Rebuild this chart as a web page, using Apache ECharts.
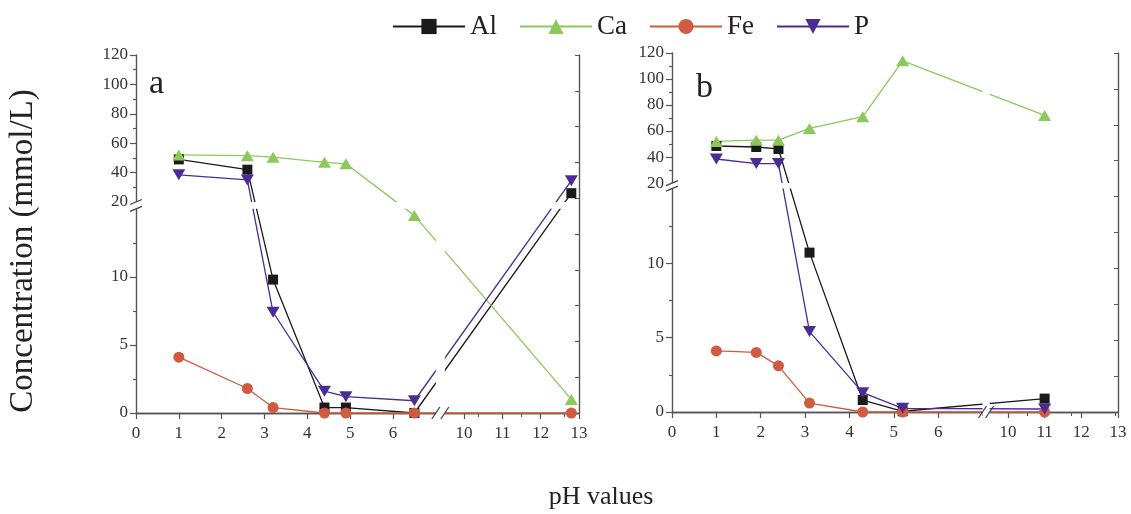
<!DOCTYPE html>
<html><head><meta charset="utf-8">
<script src="https://cdn.jsdelivr.net/npm/echarts@6/dist/echarts.min.js"></script>
<style>html,body{margin:0;padding:0;background:#fff}#c{width:1131px;height:514px}</style>
</head><body><div id="c"></div>
<script>
// ---------- data ----------
const names = ['Al', 'Ca', 'Fe', 'P'];
// panel a
const phA = [1, 2.6, 3.2, 4.4, 4.9, 6.5, 12.8];
const alA = [49, 42, 9.8, 0.4, 0.4, 0, 26];
const caA = [52, 51.5, 50.5, 47, 46, 14.5, 1.0];
const feA = [4.1, 1.8, 0.4, 0, 0, 0, 0];
const pA  = [38.5, 35, 7.4, 1.6, 1.2, 0.9, 34.5];
// panel b
const phB = [1, 1.9, 2.4, 3.1, 4.3, 5.2, 11];
const alB = [48.5, 47.7, 46.2, 10.7, 0.8, 0.05, 0.9];
const caB = [52, 53, 53, 62, 71, 114, 72];
const feB = [4.1, 4.0, 3.1, 0.6, 0, 0, 0];
const pB  = [38.5, 35, 35, 5.4, 1.3, 0.25, 0.2];
// tick labels
const yMajorLow = [0, 5, 10];
const yMajorHigh = [20, 40, 60, 80, 100, 120];
const yMinorLow = [2.5, 7.5, 12.5];
const yMinorHigh = [30, 50, 70, 90, 110];
const xTicksLow = [0, 1, 2, 3, 4, 5, 6];
const xTicksHigh = [10, 11, 12, 13];

// ---------- styling ----------
const FONT = '"Liberation Serif","Times New Roman",serif';
const colors = { Al: '#1a1a1a', Ca: '#8cc85c', Fe: '#cf5b40', P: '#4b2c94' };
const symbols = { Al: 'rect', Ca: 'triangle', Fe: 'circle', P: 'path://M0,0L10,0L5,9Z' };
const symbolSizes = { Al: 10, Ca: [13, 11], Fe: 11, P: [13, 11] };
const AXIS_COLOR = '#555';

// broken-axis scales (piecewise linear)
const panels = [
  { ph: phA, vals: { Al: alA, Ca: caA, Fe: feA, P: pA },
    grid: { left: 136, top: 55, width: 443, height: 358 },
    yLowEnd: 15, yHighStart: 20, yGap: 0.5, yK: 0.108,
    xLowEnd: 7, xHighStart: 9.5, xGap: 0.21, xR: 0.895 },
  { ph: phB, vals: { Al: alB, Ca: caB, Fe: feB, P: pB },
    grid: { left: 672, top: 53, width: 446, height: 359 },
    yLowEnd: 15, yHighStart: 20, yGap: 0.37, yK: 0.0873,
    xLowEnd: 7, xHighStart: 9.5, xGap: 0.16, xR: 0.827 }
];
function ty(p, v) { return v <= p.yLowEnd ? v : p.yLowEnd + p.yGap + (v - p.yHighStart) * p.yK; }
function tx(p, v) { return v <= p.xLowEnd ? v : p.xLowEnd + p.xGap + (v - p.xHighStart) * p.xR; }
function iy(p, d) { return d <= p.yLowEnd + 1e-6 ? d : p.yHighStart + (d - p.yLowEnd - p.yGap) / p.yK; }
function ix(p, d) { return d <= p.xLowEnd + 1e-6 ? d : p.xHighStart + (d - p.xLowEnd - p.xGap) / p.xR; }
panels.forEach(p => { p.yMax = ty(p, 120); p.xMax = tx(p, 13); });

const grids = [], xAxes = [], yAxes = [], series = [];
const labelStyle = { color: '#333', fontSize: 17, fontFamily: FONT };

panels.forEach((p, i) => {
  grids.push(Object.assign({ containLabel: false }, p.grid));
  const xTicks = xTicksLow.concat(xTicksHigh).map(v => tx(p, v));
  xAxes.push({
    type: 'value', gridIndex: i, min: 0, max: p.xMax, position: 'bottom',
    axisLine: { show: true, lineStyle: { color: AXIS_COLOR, width: 1.4 } },
    axisTick: { show: true, customValues: xTicks, length: 6, lineStyle: { color: AXIS_COLOR, width: 1.2 } },
    axisLabel: Object.assign({ customValues: xTicks, margin: 12,
      formatter: v => String(Math.round(ix(p, v))) }, labelStyle),
    splitLine: { show: false }
  });
  xAxes.push({
    type: 'value', gridIndex: i, min: 0, max: p.xMax, interval: 1, position: 'top',
    axisLine: { show: true, lineStyle: { color: AXIS_COLOR, width: 1.4 } },
    axisTick: { show: true, inside: true, length: 4, lineStyle: { color: AXIS_COLOR } },
    axisLabel: { show: false }, splitLine: { show: false }
  });
  const yMajor = yMajorLow.concat(yMajorHigh).map(v => ty(p, v));
  const yMinor = yMinorLow.concat(yMinorHigh).map(v => ty(p, v));
  yAxes.push({
    type: 'value', gridIndex: i, min: 0, max: p.yMax, position: 'left',
    axisLine: { show: true, lineStyle: { color: AXIS_COLOR, width: 1.4 } },
    axisTick: { show: true, customValues: yMajor, length: 6, lineStyle: { color: AXIS_COLOR, width: 1.2 } },
    axisLabel: Object.assign({ customValues: yMajor, margin: 8,
      formatter: v => String(Math.round(iy(p, v))) }, labelStyle),
    splitLine: { show: false }
  });
  yAxes.push({
    type: 'value', gridIndex: i, min: 0, max: p.yMax, position: 'left',
    axisLine: { show: false },
    axisTick: { show: true, customValues: yMinor, length: 3, lineStyle: { color: AXIS_COLOR, width: 1.2 } },
    axisLabel: { show: false }, splitLine: { show: false }
  });
  yAxes.push({
    type: 'value', gridIndex: i, min: 0, max: 10, interval: 1, position: 'right',
    axisLine: { show: true, lineStyle: { color: AXIS_COLOR, width: 1.4 } },
    axisTick: { show: true, inside: true, length: 4, lineStyle: { color: AXIS_COLOR } },
    axisLabel: { show: false }, splitLine: { show: false }
  });

  names.forEach(n => {
    series.push({
      name: n, type: 'line', xAxisIndex: 2 * i, yAxisIndex: 3 * i,
      data: p.ph.map((x, k) => [tx(p, x), ty(p, p.vals[n][k])]),
      symbol: symbols[n], symbolSize: symbolSizes[n], symbolKeepAspect: false,
      showAllSymbol: true, clip: false, animation: false,
      lineStyle: { color: colors[n], width: 1.3 },
      itemStyle: { color: colors[n], borderWidth: 0 },
      emphasis: { disabled: true }
    });
  });

  // break bands and "//" marks
  series.push({
    type: 'custom', xAxisIndex: 2 * i, yAxisIndex: 3 * i, silent: true, z: 5, clip: false,
    animation: false, data: [[0, 0]],
    renderItem: function (params, api) {
      const bl = api.coord([0, 0]);
      const tr = api.coord([p.xMax, p.yMax]);
      const left = bl[0], bottom = bl[1], right = tr[0], top = tr[1];
      const yb1 = api.coord([0, p.yLowEnd])[1];
      const yb2 = api.coord([0, p.yLowEnd + p.yGap])[1];
      const xb1 = api.coord([p.xLowEnd, 0])[0];
      const xb2 = api.coord([p.xLowEnd + p.xGap, 0])[0];
      const st = { stroke: '#444', lineWidth: 1.3 };
      return {
        type: 'group', children: [
          { type: 'rect', shape: { x: left - 8, y: yb2, width: right - left + 7, height: yb1 - yb2 }, style: { fill: '#fff' } },
          { type: 'rect', shape: { x: xb1, y: top + 2, width: xb2 - xb1, height: bottom - top + 8 }, style: { fill: '#fff' } },
          { type: 'line', shape: { x1: left - 6, y1: yb1 + 2.5, x2: left + 6, y2: yb1 - 2.5 }, style: st },
          { type: 'line', shape: { x1: left - 6, y1: yb2 + 2.5, x2: left + 6, y2: yb2 - 2.5 }, style: st },
          { type: 'line', shape: { x1: xb1 - 4, y1: bottom + 6, x2: xb1 + 4, y2: bottom - 6 }, style: st },
          { type: 'line', shape: { x1: xb2 - 4, y1: bottom + 6, x2: xb2 + 4, y2: bottom - 6 }, style: st }
        ]
      };
    }
  });
});

const chart = echarts.init(document.getElementById('c'), null, { renderer: 'canvas' });
chart.setOption({
  backgroundColor: '#fff',
  animation: false,
  legend: {
    data: names, left: 387, top: 8, itemWidth: 72, itemHeight: 19, itemGap: 22,
    textStyle: { fontSize: 27, fontFamily: FONT, color: '#222' },
    selectedMode: false
  },
  grid: grids,
  xAxis: xAxes,
  yAxis: yAxes,
  series: series,
  graphic: [
    { type: 'text', x: 23, y: 251, rotation: Math.PI / 2,
      style: { text: 'Concentration (mmol/L)', fontSize: 33, fontFamily: FONT, fill: '#222', align: 'center', verticalAlign: 'middle' } },
    { type: 'text', x: 601, y: 497,
      style: { text: 'pH values', fontSize: 26, fontFamily: FONT, fill: '#222', align: 'center', verticalAlign: 'middle' } },
    { type: 'text', x: 149, y: 84,
      style: { text: 'a', fontSize: 34, fontFamily: FONT, fill: '#222', align: 'left', verticalAlign: 'middle' } },
    { type: 'text', x: 696, y: 88,
      style: { text: 'b', fontSize: 34, fontFamily: FONT, fill: '#222', align: 'left', verticalAlign: 'middle' } }
  ]
});
</script>
</body></html>
